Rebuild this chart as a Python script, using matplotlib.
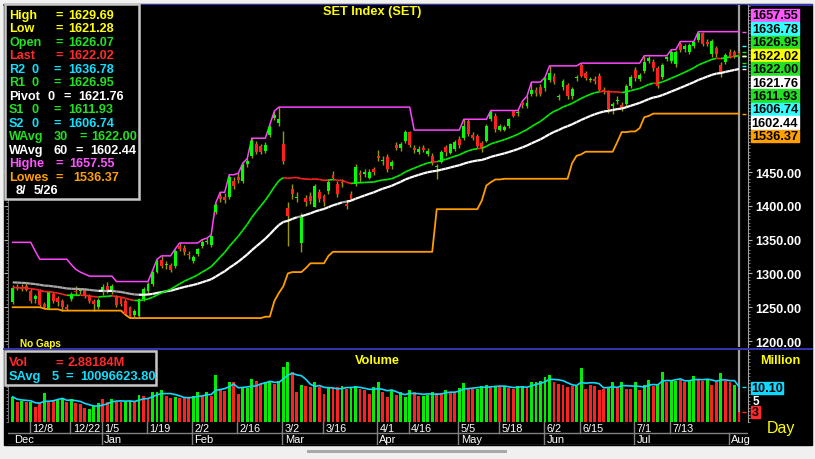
import numpy as np
import pandas as pd
import matplotlib
matplotlib.use("Agg")
import matplotlib.pyplot as plt
from matplotlib.patches import Rectangle
from matplotlib.collections import LineCollection
from matplotlib.ticker import MultipleLocator

plt.rcParams['font.family'] = ['Liberation Sans', 'DejaVu Sans']

# ---------------- data: SET index, daily, 1 Dec 2025 - 5 Aug 2026 ----------------
holidays = ['2025-12-05', '2025-12-10', '2025-12-31', '2026-01-01', '2026-01-02',
            '2026-03-03', '2026-04-06', '2026-04-13', '2026-04-14', '2026-04-15',
            '2026-05-01', '2026-05-04', '2026-06-01', '2026-06-03', '2026-07-28',
            '2026-07-29']

opens = [1258, 1280, 1279, 1281, 1274, 1262, 1274, 1255, 1248, 1270, 1264, 1259, 1250, 1262, 1274, 1274, 1275, 1267, 1259, 1250,
         1273, 1281, 1273, 1265, 1263, 1259, 1250, 1238, 1237, 1262, 1274, 1284, 1302, 1320, 1312, 1312, 1311, 1341, 1338, 1328,
         1318, 1329, 1340, 1346, 1342, 1391, 1415, 1413, 1413, 1437, 1443, 1437, 1462, 1474, 1491, 1488, 1481, 1505, 1530, 1522,
         1491, 1397, 1425, 1412, 1345, 1411, 1415, 1398, 1420, 1414, 1422, 1445, 1432, 1435, 1402, 1417, 1432, 1448, 1447, 1441, 1454,
         1474, 1466, 1472, 1459, 1490, 1485, 1496, 1509, 1486, 1480, 1486, 1477, 1474, 1457, 1465, 1487, 1478, 1484,
         1499, 1500, 1525, 1504, 1503, 1493, 1496, 1528, 1533, 1512, 1512, 1518, 1540, 1537, 1553, 1547, 1565, 1572, 1576,
         1574, 1586, 1592, 1561, 1576, 1578, 1562, 1589, 1608, 1596, 1586, 1588, 1592, 1572, 1569, 1547, 1555, 1549, 1551, 1577,
         1601, 1588, 1599, 1614, 1613, 1604, 1590, 1617, 1614, 1610, 1639, 1632, 1627, 1636, 1645, 1655, 1643, 1624, 1634, 1608, 1613,
         1627, 1628, 1626.07]
highs = [1283, 1284, 1285, 1286, 1277, 1269, 1277, 1258, 1274, 1273, 1267, 1262, 1255, 1272, 1282, 1278, 1278, 1270, 1262, 1263,
         1284, 1288, 1284, 1268, 1265, 1262, 1252, 1248, 1264, 1280, 1287, 1304, 1321, 1326, 1318, 1315, 1336, 1345, 1342, 1333,
         1328, 1338, 1350, 1352, 1357, 1404, 1420, 1419, 1446, 1442, 1448, 1463, 1470, 1500, 1496, 1492, 1494, 1520, 1540, 1546,
         1511, 1405, 1432, 1420, 1390, 1416, 1420, 1433, 1425, 1418, 1440, 1452, 1436, 1440, 1408, 1422, 1462, 1453, 1455, 1454, 1458,
         1482, 1473, 1477, 1468, 1495, 1494, 1512, 1510, 1490, 1488, 1490, 1485, 1478, 1462, 1482, 1490, 1493, 1497,
         1503, 1528, 1528, 1509, 1506, 1496, 1521, 1541, 1537, 1521, 1520, 1530, 1541, 1541, 1555, 1562, 1583, 1576, 1580,
         1590, 1607, 1597, 1566, 1588, 1582, 1576, 1594, 1611, 1600, 1591, 1592, 1596, 1576, 1572, 1553, 1562, 1553, 1580, 1593,
         1606, 1597, 1622, 1622, 1617, 1607, 1611, 1622, 1631, 1630, 1643, 1640, 1641, 1643, 1657.55, 1657, 1646, 1647, 1637, 1612, 1626,
         1632, 1631, 1629.69]
lows = [1255, 1275, 1274, 1274, 1256, 1257, 1250, 1248, 1247, 1256, 1252, 1245, 1246, 1259, 1268, 1270, 1263, 1256, 1245, 1247,
        1268, 1271, 1270, 1251, 1252, 1239, 1234, 1236, 1236, 1259, 1271, 1281, 1300, 1308, 1306, 1302, 1308, 1333, 1328, 1322,
        1315, 1326, 1337, 1343, 1339, 1388, 1405, 1404, 1410, 1425, 1434, 1434, 1458, 1470, 1476, 1476, 1478, 1502, 1527, 1518,
        1462, 1341, 1410, 1405, 1332, 1400, 1403, 1398, 1406, 1400, 1418, 1438, 1413, 1428, 1395, 1408, 1430, 1435, 1443, 1439, 1445,
        1466, 1460, 1450, 1455, 1483, 1481, 1493, 1487, 1478, 1476, 1479, 1473, 1460, 1440, 1463, 1474, 1476, 1481,
        1486, 1497, 1503, 1497, 1485, 1480, 1494, 1525, 1509, 1510, 1510, 1515, 1531, 1533, 1545, 1544, 1562, 1562, 1562,
        1570, 1583, 1580, 1556, 1572, 1558, 1558, 1585, 1590, 1586, 1583, 1580, 1568, 1565, 1537, 1536.37, 1551, 1540, 1548, 1574,
        1585, 1585, 1596, 1611, 1600, 1574, 1587, 1614, 1611, 1606, 1627, 1628, 1624, 1633, 1642, 1636, 1636, 1620, 1620, 1590, 1610,
        1618, 1618, 1621.28]
closes = [1279, 1278, 1277, 1276, 1259, 1266, 1253, 1251, 1272, 1259, 1258, 1250, 1248, 1270, 1272, 1276, 1267, 1259, 1255, 1261,
          1280, 1274, 1281, 1253, 1255, 1240, 1236, 1245, 1262, 1277, 1284, 1302, 1318, 1311, 1313, 1305, 1333, 1336, 1331, 1327,
          1324, 1336, 1347, 1348, 1355, 1401, 1410, 1408, 1443, 1429, 1438, 1460, 1466, 1496, 1480, 1480, 1490, 1517, 1535, 1528,
          1466, 1385, 1417, 1413, 1383, 1406, 1407, 1429, 1410, 1405, 1435, 1441, 1417, 1434, 1399, 1410, 1457, 1445, 1450, 1450, 1450,
          1470, 1468, 1454, 1465, 1486, 1491, 1509, 1490, 1482, 1484, 1483, 1481, 1465, 1458, 1480, 1480, 1491, 1494,
          1490, 1518, 1506, 1501, 1488, 1484, 1518, 1539, 1514, 1518, 1517, 1528, 1533, 1539, 1549, 1552, 1571, 1567, 1566,
          1589, 1596, 1583, 1562, 1584, 1562, 1573, 1591, 1592, 1589, 1588, 1584, 1571, 1568, 1543, 1550, 1556, 1545, 1577, 1590,
          1589, 1593, 1613, 1619, 1604, 1577, 1608, 1620, 1627, 1627, 1630, 1636, 1638, 1642, 1656, 1639, 1640, 1644, 1624, 1598, 1623,
          1621, 1621, 1622.02]

# volume in millions, colour of every volume bar (g / r)
volume_m = [7.2, 5.8, 5.9, 5.8, 5.6, 4.4, 5.3, 8.3, 6.1, 6.2, 6.3, 6.8, 5.6, 6.5, 5.3, 5.2, 3.9, 3.7, 4.7, 5.3,
            6.5, 5.8, 6.5, 5.7, 5.7, 6.1, 6.1, 5.7, 7.7, 7.3, 6.8, 8.5, 8.7, 9.2, 7.4, 6.8, 7.2, 6.8, 6.8, 7.1,
            7.3, 8.5, 7.5, 8.5, 7.5, 13.4, 9.4, 8.9, 11.3, 11.3, 8.0, 9.9, 9.6, 12.3, 11.8, 10.9, 11.3, 11.8, 10.9, 11.8,
            15.6, 17.0, 14.2, 8.7, 10.6, 10.4, 9.9, 11.3, 9.9, 8.0, 9.9, 9.6, 9.9, 10.4, 9.4, 9.9, 10.4, 9.4, 9.0, 8.0, 9.9,
            11.3, 8.5, 7.0, 9.0, 7.6, 8.5, 7.0,
            9.0, 8.5, 7.5, 7.5, 7.7, 8.7, 8.2, 8.0, 9.0, 8.7, 8.7, 9.7, 11.0, 9.6, 9.4, 9.4, 10.4, 10.7, 10.4, 9.9,
            9.9, 10.4, 9.6, 9.4, 10.4, 10.4, 9.9, 11.5, 11.5, 11.8, 12.8, 13.4, 11.3, 10.9, 10.6, 9.9, 10.4, 10.4, 15.3, 9.4,
            10.6, 10.4, 9.0, 9.4, 9.9, 11.5, 9.6, 11.5, 9.4, 9.4, 11.5, 9.0, 10.6, 12.1, 10.4, 10.9, 14.4, 11.5, 11.8, 11.8,
            12.1, 11.5, 11.8, 13.2, 12.1, 11.8, 12.3, 10.6, 11.5, 13.9, 11.8, 11.3, 10.6, 2.88]
vol_colors = ("grgrgrrgrrggrgrrrggg" "rrgrrggrgrrgggrrgrrr" "ggrgrgrrgrrgggrrggrg"
              "ggrrgrrgrrgrrgrggrrrg" "grrgrgg"
              "grrgggrrgr" "rggrrgggrg" "rgrrggrggg" "ggrrrrrggr" "rrrrggrgrr"
              "grggrggrgg" "rrggrrgrrg" "rrgr")

# 30 day high/low line while the window still reaches back before December
early_highest = [1346, 1346, 1346, 1346, 1346, 1333, 1321, 1321, 1321, 1321, 1321, 1321, 1321, 1313, 1306,
                 1302, 1299, 1296, 1296, 1296, 1296, 1296, 1296, 1288, 1288, 1288, 1288, 1288, 1288, 1288]
early_lowest = 1250
# level of the two weighted averages at the first bar (history before December)
wavg30_start = 1279
wavg60_start = 1287

week_ticks = ['12/8', '12/22', '1/5', '1/19', '2/2', '2/16', '3/2', '3/16', '4/1', '4/16',
              '5/5', '5/18', '6/2', '6/15', '7/1', '7/13']
price_ticks = [1200, 1250, 1300, 1350, 1400, 1450]

YEL, GRN, RED, CYA, WHT, MAG, ORA = '#ffff00', '#22e022', '#ff2a2a', '#10e0ff', '#ffffff', '#ff55ff', '#ffa000'

info_rows = [
    [("High", 9), ("=", 55), ("1629.69", 68)], [("Low", 9), ("=", 55), ("1621.28", 68)],
    [("Open", 9), ("=", 55), ("1626.07", 68)], [("Last", 9), ("=", 55), ("1622.02", 68)],
    [("R2", 9), ("0", 32), ("=", 53), ("1636.78", 68)], [("R1", 9), ("0", 32), ("=", 53), ("1626.95", 68)],
    [("Pivot", 9), ("0", 48), ("=", 63), ("1621.76", 78)], [("S1", 9), ("0", 32), ("=", 53), ("1611.93", 68)],
    [("S2", 9), ("0", 32), ("=", 53), ("1606.74", 68)], [("WAvg", 9), ("30", 54), ("=", 80), ("1622.00", 91)],
    [("WAvg", 9), ("60", 53), ("=", 76), ("1602.44", 90)], [("Highe", 9), ("=", 55), ("1657.55", 69)],
    [("Lowes", 9), ("=", 55), ("1536.37", 73)], [("8/", 16), ("5/26", 34)],
]
info_colors = [YEL, YEL, GRN, RED, CYA, GRN, WHT, GRN, CYA, GRN, WHT, MAG, ORA, WHT]

box_values = ['1657.55', '1636.78', '1626.95', '1622.02', '1622.00', '1621.76', '1611.93', '1606.74', '1602.44', '1536.37']
box_colors = [MAG, '#33ffff', GRN, YEL, GRN, WHT, GRN, '#33ffff', WHT, ORA]

# ---------------- derived series ----------------
dates = pd.bdate_range('2025-12-01', '2026-08-05')
dates = dates[~dates.isin(pd.to_datetime(holidays))]
n = len(closes)
x = np.arange(n)
o, h, l, c = map(np.asarray, (opens, highs, lows, closes))


def wavg(values, span, start):
    # linear weighted average; bars before the first one are taken at the start level
    full = np.concatenate([np.full(span - 1, start, dtype=float), np.asarray(values, dtype=float)])
    w = np.arange(1, span + 1)
    return np.array([(full[i:i + span] * w).sum() / w.sum() for i in range(len(values))])


wma30 = wavg(closes, 30, wavg30_start)
wma60 = wavg(closes, 60, wavg60_start)
seed_hi = np.full(n, -np.inf)
seed_hi[:30] = early_highest
seed_lo = np.full(n, np.inf)
seed_lo[:30] = early_lowest
highest = np.maximum(pd.Series(h).rolling(30, min_periods=1).max().values, seed_hi)
lowest = np.minimum(pd.Series(l).rolling(30, min_periods=1).min().values, seed_lo)
savg5 = pd.Series(volume_m).rolling(5, min_periods=1).mean().values

# ---------------- figure ----------------
W, H = 815, 460
fig = plt.figure(figsize=(W / 100, H / 100), dpi=100, facecolor='#f0f0f0')


def px_axes(x0, y0, x1, y1):
    return fig.add_axes([x0 / W, 1 - y1 / H, (x1 - x0) / W, (y1 - y0) / H])


XL = (-1.04, 163.0)

bg = px_axes(0, 0, W, H)
bg.set_xlim(0, W)
bg.set_ylim(H, 0)
bg.axis('off')
bg.add_patch(Rectangle((4, 5), 808, 441, color='black'))
bg.plot([4, 812], [5.5, 5.5], color='#3a3ac0', lw=1.3)
bg.plot([4, 812], [349.5, 349.5], color='#3a3ac0', lw=1.3)
bg.plot([308, 505], [452, 452], color='#a8a8a8', lw=2.2)

# price panel
ax = px_axes(8, 6, 748, 348)
ax.set_facecolor('black')
ax.set_xlim(*XL)
ax.set_ylim(1191.2, 1697.0)
for s in ('top', 'bottom'):
    ax.spines[s].set_visible(False)
ax.spines['left'].set_color('#707070')
ax.spines['right'].set_color('#a0a0a0')
ax.set_xticks([])
ax.yaxis.tick_right()
ax.set_yticks(price_ticks)
ax.set_yticklabels([f"{v:.2f}" for v in price_ticks])
ax.yaxis.set_minor_locator(MultipleLocator(5))
ax.tick_params(axis='y', which='major', colors='#b0b0b0', labelcolor='white', labelsize=9.2,
               length=3, pad=2, left=True)
ax.tick_params(axis='y', which='minor', colors='#909090', length=1.5, left=True, right=True)
for lbl in ax.get_yticklabels():
    lbl.set_fontweight('bold')

ax.axvline(161, color='#a0a0a0', lw=1.6, zorder=1)
ax.vlines(x, l, h, color='#9a9a00', lw=1, zorder=2)
up = c >= o
body_bottom = np.minimum(o, c)
body_h = np.maximum(np.abs(c - o), 1.5)
ax.bar(x, body_h, bottom=body_bottom, width=0.64, color=np.where(up, '#00ff00', '#ff2020'),
       linewidth=0, zorder=3)

ax.plot(x, highest, color='#ff44ff', lw=1.1, zorder=2)
ax.plot(x, lowest, color='#ff9c00', lw=1.3, zorder=2)


def colored_line(axis, xs, ys, cols, lw):
    pts = np.column_stack([xs, ys])
    segs = np.stack([pts[:-1], pts[1:]], axis=1)
    axis.add_collection(LineCollection(segs, colors=list(cols[1:]), linewidths=lw, zorder=4))


colored_line(ax, x, wma60, np.where(c >= wma60, '#ffffff', '#a8a8a8'), 1.6)
colored_line(ax, x, wma30, np.where(c >= wma30, '#00ee00', '#ff2020'), 1.2)

for v, col in zip(box_values, box_colors):
    ax.plot(162.2, float(v), marker='_', ms=3, color=col, mew=1, zorder=5)

# volume panel
vax = px_axes(8, 351, 748, 423)
vax.set_facecolor('black')
vax.set_xlim(*XL)
vax.set_ylim(0, 20.57)
for s in ('top', 'bottom'):
    vax.spines[s].set_visible(False)
vax.spines['left'].set_color('#707070')
vax.spines['right'].set_color('#a0a0a0')
vax.set_xticks([])
vax.yaxis.set_minor_locator(MultipleLocator(1))
vax.set_yticks([])
vax.tick_params(axis='y', which='minor', colors='#909090', length=1.5, left=True, right=True)
vax.axvline(161, color='#a0a0a0', lw=1.6, zorder=1)
vax.bar(x, volume_m, width=0.64, linewidth=0, zorder=2,
        color=['#00ee00' if k == 'g' else '#ff2020' for k in vol_colors])
vax.plot(x, savg5, color='#10d8ff', lw=1.2, zorder=3)
vax.plot(162.2, 10.10, marker='_', ms=3, color='#10d8ff')
vax.plot(162.2, 2.88, marker='_', ms=3, color=RED)

# date rows
dax = px_axes(8, 423, 748, 446)
dax.set_xlim(*XL)
dax.set_ylim(23, 0)
dax.axis('off')
dax.plot(XL, [10.5, 10.5], color='#808080', lw=1)
dax.plot(XL, [22.5, 22.5], color='#808080', lw=1)
narrow = ['Liberation Sans Narrow', 'Liberation Sans', 'DejaVu Sans']
for lab in week_ticks:
    mo, dy = map(int, lab.split('/'))
    pos = dates.get_loc(pd.Timestamp(2025 if mo == 12 else 2026, mo, dy))
    dax.plot([pos - 0.2, pos - 0.2], [0, 10.5], color='#808080', lw=1)
    dax.text(pos + 0.3, 5.6, lab, color='white', fontsize=7.8, family=narrow, va='center', ha='left')
month_start = [0] + [i for i in range(1, n) if dates[i].month != dates[i - 1].month]
for k, pos in enumerate(month_start):
    if k > 0:
        dax.plot([pos - 0.2, pos - 0.2], [10.5, 22.5], color='#808080', lw=1)
    dax.text(pos + 0.3, 16.6, dates[pos].strftime('%b'), color='white', fontsize=8,
             family=narrow, va='center', ha='left')

# overlay texts / boxes in pixel coordinates
ov = px_axes(0, 0, W, H)
ov.set_xlim(0, W)
ov.set_ylim(H, 0)
ov.axis('off')

ov.add_patch(Rectangle((5, 5), 134, 195, facecolor='black', edgecolor='#c8c8c8', lw=1.8))
for k, (row, col) in enumerate(zip(info_rows, info_colors)):
    yc = 15.7 + 13.5 * k
    for txt, xp in row:
        ov.text(xp, yc, txt, color=col, fontsize=9.1, fontweight='bold', va='center', ha='left')

ov.text(372, 12, "SET Index (SET)", color=YEL, fontsize=9.2, fontweight='bold', ha='center', va='center')
ov.text(20, 344, "No Gaps", color=YEL, fontsize=7.2, fontweight='bold', ha='left', va='center')

for k, (v, col) in enumerate(zip(box_values, box_colors)):
    yc = 16 + 13.45 * k
    ov.add_patch(Rectangle((751, yc - 6.4), 48, 12.8, color=col))
    ov.text(775, yc + 0.3, v, color='black', fontsize=9.2, fontweight='bold', ha='center', va='center')

ov.add_patch(Rectangle((5, 351.5), 151, 34, facecolor='black', edgecolor='#c8c8c8', lw=1.8))
for txt, xp in [("Vol", 9), ("=", 55), ("2.88184M", 67)]:
    ov.text(xp, 363.3, txt, color=RED, fontsize=9.3, fontweight='bold', va='center', ha='left')
for txt, xp in [("SAvg", 9), ("5", 52), ("=", 65), ("10096623.80", 80)]:
    ov.text(xp, 376.7, txt, color=CYA, fontsize=9.3, fontweight='bold', va='center', ha='left')

ov.text(377, 360.7, "Volume", color=YEL, fontsize=9.2, fontweight='bold', ha='center', va='center')
ov.text(780, 361, "Million", color=YEL, fontsize=9.2, fontweight='bold', ha='center', va='center')
ov.add_patch(Rectangle((751, 382.5), 32, 12, color='#10d8ff'))
ov.text(767, 388.8, "10.10", color='black', fontsize=9.2, fontweight='bold', ha='center', va='center')
ov.text(753, 402, "5", color='white', fontsize=8.5, fontweight='bold', ha='left', va='center')
ov.add_patch(Rectangle((751, 407), 9, 12, color=RED))
ov.text(755.5, 413.3, "3", color='black', fontsize=9, fontweight='bold', ha='center', va='center')
ov.text(781, 429, "Day", color=YEL, fontsize=11.5, ha='center', va='center')

fig.savefig("out.png", dpi=100, facecolor=fig.get_facecolor())
